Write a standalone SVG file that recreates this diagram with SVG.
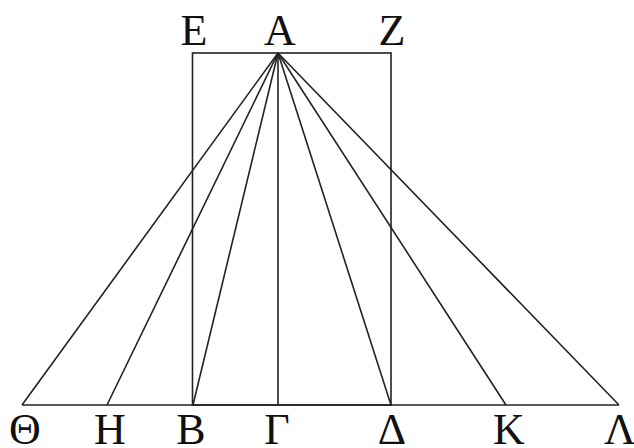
<svg xmlns="http://www.w3.org/2000/svg" width="634" height="448" viewBox="0 0 634 448">
<style>
.l{stroke:#222;stroke-width:1.6;fill:none}
text{font-family:"Liberation Serif","Times New Roman",serif;font-size:44px;fill:#111;text-anchor:middle}
</style>
<rect width="634" height="448" fill="#fff"/>
<g id="connectors">
<rect class="l" x="192.5" y="53" width="198.5" height="352"/>
<line class="l" x1="22" y1="405" x2="619" y2="405"/>
<line class="l" x1="278" y1="53" x2="22" y2="405"/>
<line class="l" x1="278" y1="53" x2="107" y2="405"/>
<line class="l" x1="278" y1="53" x2="193" y2="405"/>
<line class="l" x1="278" y1="53" x2="278" y2="405"/>
<line class="l" x1="278" y1="53" x2="391" y2="405"/>
<line class="l" x1="278" y1="53" x2="506" y2="405"/>
<line class="l" x1="278" y1="53" x2="619" y2="405"/>
</g>
<g id="E"><text x="194" y="45">E</text></g>
<g id="A"><text x="280" y="45">A</text></g>
<g id="Z"><text x="392" y="45">Z</text></g>
<g id="Theta"><text x="25" y="444">Θ</text></g>
<g id="H"><text x="110" y="444">H</text></g>
<g id="B"><text x="191" y="444">B</text></g>
<g id="Gamma"><text x="277" y="444">Γ</text></g>
<g id="Delta"><text x="392" y="444">Δ</text></g>
<g id="K"><text x="509" y="444">K</text></g>
<g id="Lambda"><text x="620" y="444">Λ</text></g>
</svg>
